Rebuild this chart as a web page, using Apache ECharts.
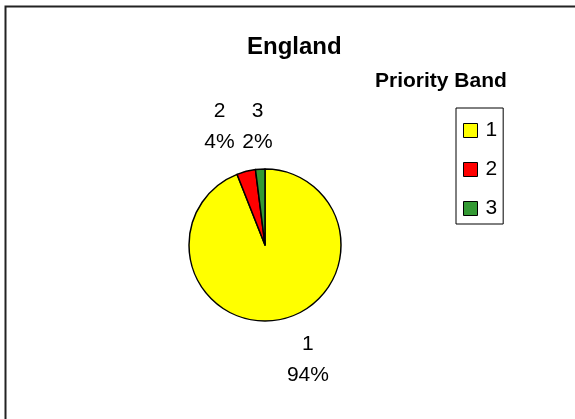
<!DOCTYPE html>
<html>
<head>
<meta charset="utf-8">
<script src="https://cdn.jsdelivr.net/npm/echarts@6/dist/echarts.min.js"></script>
<style>
html,body{margin:0;padding:0;background:#fff;}
#c{width:575px;height:419px;}
</style>
</head>
<body>
<div id="c"></div>
<script>
const categories = ['1', '2', '3'];
const values = [94, 4, 2];
const colors = ['#FFFF00', '#FF0000', '#339933'];
const labelLengths = [41, 46, 43];
const chartTitle = 'England';
const legendTitle = 'Priority Band';

const FONT = '"Liberation Sans", Arial, sans-serif';
const chart = echarts.init(document.getElementById('c'), null, {renderer: 'canvas'});

const data = categories.map((c, i) => ({
  name: c,
  value: values[i],
  itemStyle: {color: colors[i]},
  labelLine: {show: false, length: labelLengths[i], length2: 0}
}));

chart.setOption({
  animation: false,
  backgroundColor: '#fff',
  title: [
    {text: chartTitle, left: 247, top: 35, padding: 0,
     textStyle: {fontFamily: FONT, fontWeight: 'bold', fontSize: 24, color: '#000'}},
    {text: legendTitle, left: 375, top: 71, padding: 0,
     textStyle: {fontFamily: FONT, fontWeight: 'bold', fontSize: 21, color: '#000'}}
  ],
  graphic: [{
    type: 'rect', silent: true, z: 100,
    shape: {x: 5.5, y: 6.5, width: 800, height: 800},
    style: {fill: null, stroke: '#222', lineWidth: 2}
  }],
  legend: {
    orient: 'vertical',
    left: 456, top: 108,
    padding: [12, 6, 5, 7],
    itemGap: 18,
    itemWidth: 14, itemHeight: 14,
    icon: 'rect',
    borderColor: '#000', borderWidth: 1,
    itemStyle: {borderColor: '#000', borderWidth: 1},
    textStyle: {fontFamily: FONT, fontSize: 21, color: '#000', padding: [0, 0, 0, 3]},
    data: categories
  },
  series: [{
    type: 'pie',
    center: [265, 245],
    radius: 76,
    startAngle: 90,
    clockwise: true,
    avoidLabelOverlap: false,
    itemStyle: {borderColor: '#000', borderWidth: 1.5},
    label: {
      show: true,
      position: 'outside',
      distanceToLabelLine: 0,
      formatter: '{c|{b}}\n{c|{d}%}',
      rich: {
        c: {fontFamily: FONT, fontSize: 21, color: '#000', lineHeight: 31, align: 'center'}
      },
      fontFamily: FONT, fontSize: 21, color: '#000', lineHeight: 31
    },
    labelLayout: function (p) {
      if (p.dataIndex === 2) return {align: 'center', hideOverlap: false};
      return {hideOverlap: false};
    },
    emphasis: {disabled: true},
    data: data
  }]
});
</script>
</body>
</html>
